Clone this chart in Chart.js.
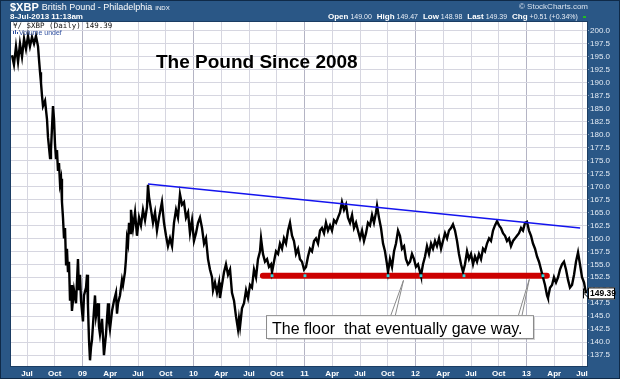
<!DOCTYPE html>
<html>
<head>
<meta charset="utf-8">
<script src="https://cdn.jsdelivr.net/npm/chart.js@4/dist/chart.umd.min.js"></script>
<style>
html,body{margin:0;padding:0;background:#2a5786;}
canvas{display:block;}
</style>
</head>
<body>
<canvas id="c" width="620" height="379"></canvas>
<script>
// x values: months since Jan 2008 (Jul 2008 = 6)
const months = [4.38,4.59,4.81,5.03,5.24,5.46,5.68,5.89,6.11,6.32,6.54,6.76,6.97,7.19,7.30,7.41,7.51,7.62,7.73,7.95,8.16,8.27,8.49,8.59,8.81,8.92,9.03,9.14,9.24,9.35,9.46,9.57,9.68,9.78,9.89,10.0,10.11,10.22,10.32,10.43,10.54,10.65,10.76,10.86,11.08,11.3,11.51,11.62,11.73,11.84,12.05,12.16,12.38,12.49,12.59,12.7,12.81,12.92,13.03,13.14,13.35,13.46,13.68,13.78,13.89,14.11,14.32,14.43,14.54,14.76,14.86,14.97,15.19,15.41,15.62,15.73,15.84,16.05,16.27,16.38,16.59,16.7,16.81,16.92,17.03,17.14,17.24,17.46,17.68,17.89,18.11,18.32,18.54,18.76,18.97,19.08,19.19,19.41,19.62,19.84,20.05,20.27,20.59,20.81,21.03,21.24,21.46,21.68,21.89,22.11,22.32,22.54,22.76,22.97,23.19,23.41,23.62,23.84,24.05,24.27,24.49,24.7,24.92,25.14,25.35,25.57,25.78,26.0,26.11,26.32,26.54,26.76,26.86,27.08,27.3,27.51,27.73,27.95,28.16,28.38,28.59,28.81,28.92,29.03,29.24,29.46,29.68,29.89,30.11,30.32,30.54,30.76,30.97,31.19,31.3,31.51,31.73,31.95,32.16,32.38,32.49,32.7,32.92,33.14,33.35,33.57,33.78,34.0,34.22,34.43,34.65,34.86,35.08,35.3,35.51,35.73,35.95,36.16,36.38,36.59,36.81,37.03,37.24,37.46,37.68,37.89,38.11,38.32,38.54,38.76,38.97,39.19,39.41,39.62,39.84,40.05,40.27,40.49,40.7,40.92,41.14,41.35,41.57,41.78,42.0,42.22,42.43,42.65,42.86,43.08,43.3,43.51,43.73,43.84,44.05,44.27,44.49,44.7,44.92,45.03,45.24,45.46,45.68,45.89,46.11,46.32,46.54,46.76,46.97,47.19,47.41,47.62,47.84,48.05,48.27,48.49,48.59,48.81,49.03,49.24,49.46,49.68,49.89,50.11,50.32,50.54,50.76,50.97,51.19,51.41,51.62,51.84,52.05,52.27,52.49,52.7,52.92,53.14,53.35,53.57,53.78,54.0,54.22,54.43,54.65,54.86,55.08,55.3,55.51,55.73,55.95,56.16,56.38,56.59,56.81,57.03,57.24,57.46,57.68,57.89,58.11,58.32,58.54,58.76,58.97,59.19,59.41,59.62,59.84,60.05,60.27,60.49,60.7,60.92,61.14,61.35,61.57,61.78,62.0,62.22,62.32,62.54,62.76,62.97,63.19,63.41,63.62,63.84,64.05,64.27,64.49,64.7,64.92,65.14,65.35,65.57,65.78,66.0,66.22,66.43];
const gbp = [195.3,193.5,197,194,197.5,195,198.5,196.5,199,197,198.8,197.5,199,197,194.4,192,190,187.5,185.5,186.5,183,179.5,175.5,177,185.5,183,178,175.5,177,173,174.5,170.5,171.5,167,164,160,162,155,158,153.5,155.5,148,151,146,150,147.5,156,150,153,148,144,149,150.5,153,147,140.5,136.5,139,140.5,143.5,149,145,147.5,143,141.5,144.5,137.5,139.5,141.5,147.5,144,142.5,146,148,149.5,145.5,147.5,149,152,151,153.5,156,160,159,163,161,165.5,162,165,160.5,164,162.5,165.5,163.5,166,170.3,168,165.5,163,165,161.5,164,167,163,160.5,158.5,160,158.5,163,165.5,164,168.5,166.5,167,164,165,161,163.5,159.5,161,163,164,162,159,160,156,154,152.5,150,151.5,149.5,151.5,148.5,151,153.5,155,153,154,149.5,148,145,142.5,144.5,143,146.5,147.5,150,148.5,151,150.5,154,152.5,156,157.5,160,157,155.5,156,154.5,155,153.5,155.5,157.5,157,159,158,160,159,161.5,163,160.5,159.5,157,158,156,155.5,154,154.5,156.5,158,157.5,159.5,160,159,161.5,162,161,163,161.5,162.5,161.5,163.5,163,164,165,167,165.5,166.5,164,163,164.5,162,163,161.5,160,161.5,159.5,161,163,162.5,164.5,163,165,166.3,164,162,159,157.5,155,153.5,156,154.5,157.5,159,161.5,160.5,158,158.5,156,155,155.5,157,156,154.5,155,153.5,152.8,155,156.5,158.5,157,159,158,159.5,158.5,160,158,159.5,161,160,161.5,162,162.7,161.5,159.5,157,155,153.5,155,157.5,156,157,155,156.5,155.5,157,156,158,157.5,159,160,159.5,161.5,162.5,163.3,162.5,162,161,160.5,159.5,160,158.5,159.5,160,160.5,161,162,161.5,163,163.2,161.5,160.5,159,158,156.5,155.5,154,152.5,151,149,148.5,150.5,151,152.5,151.5,152.5,154,155,155.5,154,152,150.5,151,153,155.5,157.3,155,152.5,151.5,149.39];

// resistance trendline and support floor
const trendX = [19.08, 65.8];
const trendY = [170.5, 162.0];
const floorX = [31.5, 62.2];
const floorY = [152.8, 152.8];
const touchX = [32.49, 36.05, 45.03, 48.59, 53.24, 61.78];
const touchY = [152.8, 152.8, 152.8, 152.8, 152.8, 152.8];

// tick labels
const xTickPos = [6,9,12,15,18,21,24,27,30,33,36,39,42,45,48,51,54,57,60,63,66];
const xTickLabels = ['Jul','Oct','09','Apr','Jul','Oct','10','Apr','Jul','Oct','11','Apr','Jul','Oct','12','Apr','Jul','Oct','13','Apr','Jul'];
const yTicks = [137.5,140,142.5,145,147.5,150,152.5,155,157.5,160,162.5,165,167.5,170,172.5,175,177.5,180,182.5,185,187.5,190,192.5,195,197.5,200];

const lastPrice = 149.39;
const calloutText = 'The floor  that eventually gave way.';
const calloutBox = {x0: 31.84, x1: 60.7, y0: 145.2, y1: 140.8};
const calloutLegs = [
  {bx0: 45.3, bx1: 45.8, tipX: 46.7, tipY: 151.9},
  {bx0: 59.1, bx1: 59.5, tipX: 60.3, tipY: 152.1}
];

const FRAME = '#2a5786';
const FONT = "'Liberation Sans', Arial, sans-serif";

const framePlugin = {
  id: 'frame',
  beforeDraw(chart) {
    const c = chart.ctx, a = chart.chartArea;
    c.save();
    c.fillStyle = FRAME;
    c.fillRect(0, 0, chart.width, chart.height);
    c.fillStyle = '#ffffff';
    c.fillRect(a.left, a.top, a.right - a.left, a.bottom - a.top);
    c.restore();
  },
  afterDraw(chart) {
    const c = chart.ctx, a = chart.chartArea;
    const xs = chart.scales.x, ys = chart.scales.y;
    c.save();
    c.strokeStyle = '#1b3d63';
    c.lineWidth = 1;
    c.strokeRect(a.left - 0.5, a.top - 0.5, a.right - a.left + 1, a.bottom - a.top + 1);
    c.strokeStyle = '#0f2a48';
    c.strokeRect(0.5, 0.5, chart.width - 1, chart.height - 1);

    // header texts
    c.fillStyle = '#ffffff';
    c.textBaseline = 'alphabetic';
    c.textAlign = 'left';
    c.font = 'bold 11px ' + FONT;
    c.fillText('$XBP', 10, 11);
    let w = c.measureText('$XBP').width;
    c.font = '9px ' + FONT;
    c.fillText('British Pound - Philadelphia', 13 + w, 10);
    let w2 = c.measureText('British Pound - Philadelphia').width;
    c.font = '6px ' + FONT;
    c.fillText('INDX', 16 + w + w2, 10);
    c.font = 'bold 8px ' + FONT;
    c.fillText('8-Jul-2013 11:13am', 10, 19);

    c.textAlign = 'right';
    c.font = '8px ' + FONT;
    c.fillStyle = '#d8e2ee';
    c.fillText('\u00A9 StockCharts.com', 588, 9);
    const parts = [['Open',' 149.00'],['High',' 149.47'],['Low',' 148.98'],['Last',' 149.39'],['Chg',' +0.51 (+0.34%)']];
    c.textAlign = 'left';
    let x = 328;
    parts.forEach(p => {
      c.font = 'bold 8px ' + FONT;
      c.fillStyle = '#ffffff';
      c.fillText(p[0], x, 19);
      x += c.measureText(p[0]).width;
      c.font = '7px ' + FONT;
      c.fillStyle = '#e8eef6';
      c.fillText(p[1], x, 19);
      x += c.measureText(p[1]).width + 5;
    });
    c.fillStyle = '#22bb22';
    c.fillRect(583, 16, 3, 2);

    // in-plot legend
    c.fillStyle = '#111111';
    c.font = "7.5px 'DejaVu Sans Mono', monospace";
    c.fillText('\u00A5/ $XBP (Daily) 149.39', 13, 28);
    c.fillStyle = '#2f4f9f';
    c.fillRect(13, 31, 1, 3); c.fillRect(15, 30, 1, 4); c.fillRect(17, 32, 1, 2);
    c.font = '7px ' + FONT;
    c.fillText('Volume undef', 19, 35);

    // title
    c.fillStyle = '#000000';
    c.font = 'bold 19px ' + FONT;
    c.fillText('The Pound Since 2008', 156, 68);

    // callout legs
    c.strokeStyle = '#8a8a8a';
    c.fillStyle = '#ffffff';
    c.lineWidth = 1;
    calloutLegs.forEach(l => {
      const by = ys.getPixelForValue(calloutBox.y0);
      c.beginPath();
      c.moveTo(xs.getPixelForValue(l.bx0), by + 1);
      c.lineTo(xs.getPixelForValue(l.tipX), ys.getPixelForValue(l.tipY));
      c.lineTo(xs.getPixelForValue(l.bx1), by + 1);
      c.fill();
      c.stroke();
    });
    // callout box
    const bx0 = xs.getPixelForValue(calloutBox.x0), bx1 = xs.getPixelForValue(calloutBox.x1);
    const by0 = ys.getPixelForValue(calloutBox.y0), by1 = ys.getPixelForValue(calloutBox.y1);
    c.fillStyle = 'rgba(120,120,120,0.35)';
    c.fillRect(bx0 + 2, by0 + 2, bx1 - bx0, by1 - by0);
    c.fillStyle = '#ffffff';
    c.fillRect(bx0, by0, bx1 - bx0, by1 - by0);
    c.strokeStyle = '#8a8a8a';
    c.strokeRect(bx0 + 0.5, by0 + 0.5, bx1 - bx0, by1 - by0);
    c.fillStyle = '#000000';
    c.font = '16px ' + FONT;
    c.textAlign = 'left';
    c.fillText(calloutText, bx0 + 6, by1 - 4);

    // last price tag
    const py = ys.getPixelForValue(lastPrice);
    c.strokeStyle = '#000000';
    c.lineWidth = 1;
    c.beginPath();
    c.moveTo(a.right - 3.5, py - 5); c.lineTo(a.right - 3.5, py + 5);
    c.moveTo(a.right - 3, py); c.lineTo(a.right + 1, py - 4);
    c.moveTo(a.right - 3, py); c.lineTo(a.right + 1, py + 4);
    c.stroke();
    c.fillStyle = '#ffffff';
    c.fillRect(a.right + 1, py - 6, 27, 12);
    c.strokeRect(a.right + 1.5, py - 5.5, 26, 11);
    c.fillStyle = '#000000';
    c.font = 'bold 8.5px ' + FONT;
    c.textBaseline = 'middle';
    c.fillText(lastPrice.toFixed(2), a.right + 3, py + 0.5);
    c.restore();
  }
};

const priceData = months.map((m, i) => ({x: m, y: gbp[i]}));

new Chart(document.getElementById('c'), {
  type: 'line',
  data: {
    datasets: [
      {
        label: 'Floor', data: floorX.map((x, i) => ({x, y: floorY[i]})),
        borderColor: '#cc0000', borderWidth: 6, pointRadius: 0, borderCapStyle: 'round', order: 3
      },
      {
        label: '$XBP', data: priceData,
        borderColor: '#000000', borderWidth: 2.4, pointRadius: 0, tension: 0, order: 2
      },
      {
        label: 'Trend', data: trendX.map((x, i) => ({x, y: trendY[i]})),
        borderColor: '#1414ee', borderWidth: 1.5, pointRadius: 0, order: 1
      },
      {
        label: 'Touches', type: 'scatter', data: touchX.map((x, i) => ({x, y: touchY[i]})),
        pointStyle: 'rect', pointRadius: 2, backgroundColor: '#35d8e0', borderWidth: 0, order: 0
      }
    ]
  },
  options: {
    responsive: false,
    animation: false,
    devicePixelRatio: 1,
    layout: {padding: {left: 11, top: 22, right: 0, bottom: 0}},
    plugins: {legend: {display: false}, tooltip: {enabled: false}},
    scales: {
      x: {
        type: 'linear', min: 4.27, max: 66.54,
        afterBuildTicks(s) { s.ticks = xTickPos.map(v => ({value: v})); },
        afterFit(s) { s.height = 13; },
        grid: {
          color: ctx => (ctx.tick && xTickLabels[xTickPos.indexOf(ctx.tick.value)] && /\d/.test(xTickLabels[xTickPos.indexOf(ctx.tick.value)])) ? '#b4b4c4' : '#d6d6e0',
          drawTicks: false, lineWidth: 1
        },
        border: {display: false},
        ticks: {
          autoSkip: false, maxRotation: 0, padding: 3,
          color: '#ffffff',
          font: {family: FONT, size: 8, weight: 'bold'},
          callback: (v) => { const i = xTickPos.indexOf(v); return i >= 0 ? xTickLabels[i] : ''; }
        }
      },
      y: {
        type: 'linear', position: 'right', min: 135.4, max: 201.7,
        afterBuildTicks(s) { s.ticks = yTicks.map(v => ({value: v})); },
        afterFit(s) { s.width = 33; },
        grid: {color: '#d6d6e0', tickColor: '#8fa6c0', tickLength: 2, lineWidth: 1},
        border: {display: false},
        ticks: {
          padding: 1, color: '#e4ecf5',
          font: {family: FONT, size: 8},
          callback: v => Number(v).toFixed(1)
        }
      }
    }
  },
  plugins: [framePlugin]
});
</script>
</body>
</html>
